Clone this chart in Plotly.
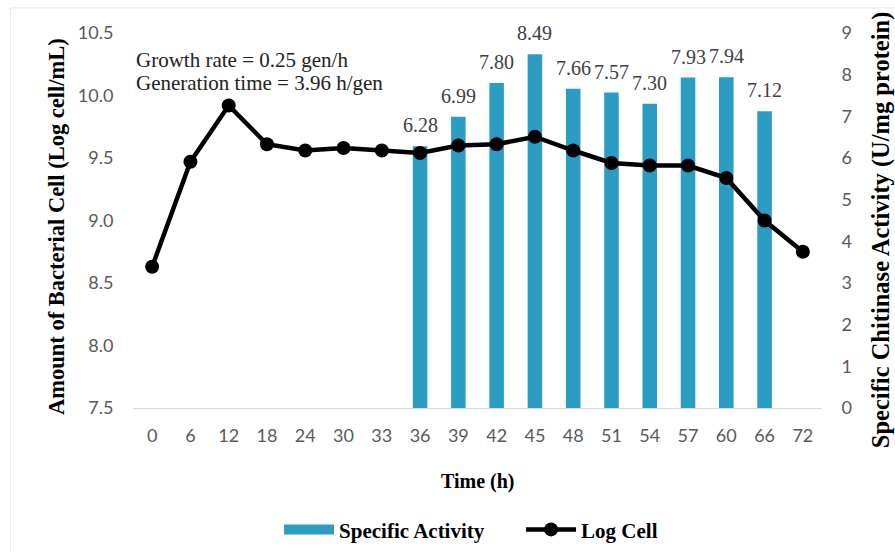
import plotly.graph_objects as go

time_labels = ["0", "6", "12", "18", "24", "30", "33", "36", "39", "42", "45", "48", "51", "54", "57", "60", "66", "72"]
log_cell = [8.63, 9.47, 9.92, 9.61, 9.56, 9.58, 9.56, 9.54, 9.60, 9.61, 9.67, 9.56, 9.46, 9.44, 9.44, 9.34, 9.00, 8.75]
specific_activity = [None, None, None, None, None, None, None, 6.28, 6.99, 7.80, 8.49, 7.66, 7.57, 7.30, 7.93, 7.94, 7.12, None]

serif = "Liberation Serif"
sans = "Lato"
bar_color = "#2B9DC2"

fig = go.Figure()
fig.add_trace(go.Bar(
    x=time_labels, y=specific_activity, name="<b>Specific Activity</b>",
    marker=dict(color=bar_color, line=dict(width=0)),
    width=0.38, yaxis="y", showlegend=False,
))
# legend entry for the bars (wide swatch like the original)
fig.add_trace(go.Scatter(
    x=[None], y=[None], mode="lines", name="<b>Specific Activity</b>",
    line=dict(color=bar_color, width=12), yaxis="y",
))
fig.add_trace(go.Scatter(
    x=time_labels, y=log_cell, name="<b>Log Cell</b>", mode="lines+markers",
    line=dict(color="black", width=4.5),
    marker=dict(color="black", size=14),
    cliponaxis=False, yaxis="y2",
))

# value labels above the bars (category axis -> use category index)
for i, v in enumerate(specific_activity):
    if v is None:
        continue
    fig.add_annotation(x=i, y=v, xref="x", yref="y", text=f"{v:.2f}", showarrow=False,
                       yanchor="middle", yshift=21,
                       font=dict(family=serif, size=20, color="#404040"))

fig.update_layout(
    width=895, height=552,
    margin=dict(l=133, r=73, t=33, b=144, autoexpand=False),
    paper_bgcolor="white", plot_bgcolor="white",
    showlegend=True,
    legend=dict(orientation="h", x=0.212, xanchor="left", y=-0.27, yanchor="top",
                font=dict(family=serif, size=21, color="black"),
                itemwidth=50, entrywidth=177, traceorder="normal"),
    xaxis=dict(type="category", range=[-0.5, 17.5], showgrid=False, showline=True, linecolor="#D9D9D9",
               ticks="outside", ticklen=11, tickcolor="rgba(0,0,0,0)", automargin=False,
               tickfont=dict(family=sans, size=18, color="#595959")),
    yaxis=dict(range=[0, 9], dtick=1, side="right",
               showgrid=False, zeroline=False, showline=False,
               ticks="outside", ticklen=15, tickcolor="rgba(0,0,0,0)", automargin=False,
               tickfont=dict(family=sans, size=18, color="#595959")),
    yaxis2=dict(range=[7.5, 10.5], tickvals=[7.5, 8.0, 8.5, 9.0, 9.5, 10.0, 10.5],
                ticktext=["7.5", "8.0", "8.5", "9.0", "9.5", "10.0", "10.5"],
                overlaying="y", side="left",
                showgrid=False, zeroline=False, showline=False,
                ticks="outside", ticklen=15, tickcolor="rgba(0,0,0,0)", automargin=False,
                tickfont=dict(family=sans, size=18, color="#595959")),
    bargap=0.6,
)

# axis titles placed as annotations to match the original positions
fig.add_annotation(xref="paper", yref="paper", x=-0.112, y=0.485, textangle=-90,
                   xanchor="center", yanchor="middle",
                   text="<b>Amount of Bacterial Cell (Log cell/mL)</b>", showarrow=False,
                   font=dict(family=serif, size=22.5, color="black"))
fig.add_annotation(xref="paper", yref="paper", x=1.086, y=0.475, textangle=-90,
                   xanchor="center", yanchor="middle",
                   text="<b>Specific Chitinase Activity (U/mg protein)</b>", showarrow=False,
                   font=dict(family=serif, size=24.5, color="black"))
fig.add_annotation(xref="paper", yref="paper", x=0.5, y=-0.195, yanchor="middle",
                   text="<b>Time (h)</b>", showarrow=False,
                   font=dict(family=serif, size=20, color="black"))

fig.add_annotation(xref="paper", yref="paper", x=0.001, y=0.929, xanchor="left", yanchor="middle",
                   text="Growth rate = 0.25 gen/h", showarrow=False,
                   font=dict(family=serif, size=21, color="#222222"))
fig.add_annotation(xref="paper", yref="paper", x=0.001, y=0.868, xanchor="left", yanchor="middle",
                   text="Generation time = 3.96 h/gen", showarrow=False,
                   font=dict(family=serif, size=21, color="#222222"))

fig.add_shape(type="rect", xref="paper", yref="paper",
              x0=-0.178, x1=1.11, y0=-0.42, y1=1.067,
              line=dict(color="#E6E6E6", width=1))

fig.write_html("out.html", config={"displayModeBar": False},
               post_script="document.body.style.margin='0';")
